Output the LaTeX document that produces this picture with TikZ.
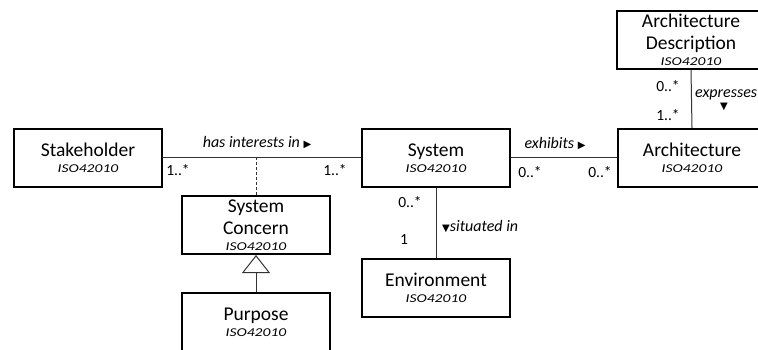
\documentclass[tikz,border=0pt]{standalone}
\usepackage{fontspec}
\setmainfont{Carlito}
\newfontfamily\isofont[FakeStretch=1.3]{Carlito}
\newfontfamily\symfont{DejaVu Sans}
\usetikzlibrary{arrows.meta}

\newcommand{\iso}{{\isofont\itshape\fontsize{12}{13}\selectfont ISO42010}}
\newcommand{\rtri}{{\symfont\fontsize{10}{10}\selectfont ▶}}
\newcommand{\dtri}{{\symfont\fontsize{10}{10}\selectfont ▼}}

\begin{document}
\begin{tikzpicture}[x=1pt,y=-1pt]
    \tikzstyle{block}=[draw=black,line width=2pt,rectangle,minimum width=148pt,minimum height=58pt,inner sep=0pt,align=center,font=\fontsize{19.5}{22}\selectfont]
    \tikzstyle{mult}=[font=\fontsize{15.5}{18}\selectfont,inner sep=0pt]
    \tikzstyle{role}=[font=\itshape\fontsize{16}{18}\selectfont,inner sep=0pt]
    \tikzstyle{assoc}=[draw=black!80,line width=1pt]

    \path[use as bounding box,clip] (0,0) rectangle (758,350);

    \node[block] at (88,158) (stake) {Stakeholder\\[-6pt]\iso};
    \node[block] at (436,158) (sys) {System\\[-6pt]\iso};
    \node[block] at (692,158) (arch) {Architecture\\[-6pt]\iso};
    \node[block] at (691,40) (ad) {Architecture\\Description\\[-6pt]\iso};
    \node[block] at (256,225) (sc) {System\\Concern\\[-6pt]\iso};
    \node[block] at (256,322) (purp) {Purpose\\[-6pt]\iso};
    \node[block] at (436,288) (env) {Environment\\[-6pt]\iso};

    \draw[assoc] (stake.east) -- (sys.west);
    \draw[assoc,dash pattern=on 3pt off 2pt] (sc.north) -- (sc.north |- stake.east);
    \draw[assoc,-{Triangle[open,length=18pt,width=28pt]}] (purp.north) -- (sc.south);
    \draw[assoc] (sys.east) -- (arch.west);
    \draw[assoc] (ad.south) -- (arch.north);
    \draw[assoc] (sys.south) -- (env.north);

    \node[role] at (257,143) (interests) {has interests in \rtri};
    \node[mult] at (178,170) (m1) {1..*};
    \node[mult] at (335,170) (m2) {1..*};
    \node[role] at (555,144) (exhibits) {exhibits \rtri};
    \node[mult] at (530,172) (m3) {0..*};
    \node[mult] at (600,172) (m4) {0..*};
    \node[mult] at (410,202) (m5) {0..*};
    \node[mult] at (404,240) (m6) {1};
    \node[role,anchor=west] at (442,227) (situated) {\dtri situated in};
    \node[mult] at (668,86) (m7) {0..*};
    \node[mult] at (668,115) (m8) {1..*};
    \node[role,anchor=west] at (695,95) (expresses) {expresses};
    \node[inner sep=0pt] at (724,107) (exarrow) {\dtri};
\end{tikzpicture}
\end{document}
